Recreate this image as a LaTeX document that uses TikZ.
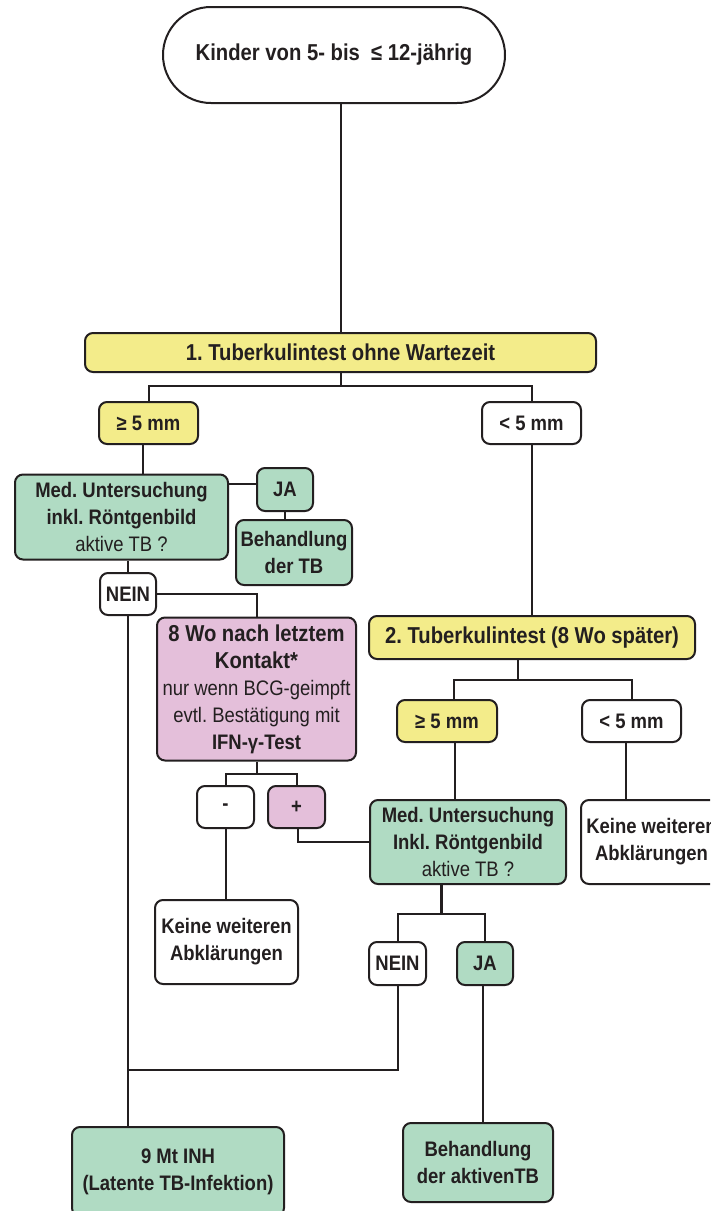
\documentclass[tikz,border=0pt]{standalone}
\usepackage{fontspec}
\setmainfont[FakeStretch=0.88]{Liberation Sans}
\usetikzlibrary{shapes.misc}
\definecolor{ink}{HTML}{231F20}
\definecolor{yel}{HTML}{F3EC8A}
\definecolor{grn}{HTML}{B0DBC3}
\definecolor{pnk}{HTML}{E4BFDA}
\newcommand\bigsz{\fontsize{23}{27}\selectfont}
\frenchspacing
\begin{document}
\begin{tikzpicture}[x=1pt,y=-1pt,
  box/.style={draw=ink, line width=2pt, rounded corners=8pt, align=center, inner sep=0pt,
    text=ink, font=\fontsize{21}{27}\selectfont\bfseries},
  big/.style={font=\fontsize{23}{27}\selectfont\bfseries},
  sz/.style 2 args={minimum width=#1pt, minimum height=#2pt},
  conn/.style={draw=ink, line width=2pt}]
\useasboundingbox (0,0) rectangle (710,1211);
\clip (0,0) rectangle (710,1211);
\fill[white] (0,0) rectangle (710,1211);
% nodes
\node[box, big, rounded rectangle, rounded corners=0pt, fill=white, sz={342}{96}] (start) at (334,55) {Kinder von 5- bis\ \ ≤ 12-jährig};
\node[box, big, fill=yel, sz={511}{39}] (t1) at (340.5,352.5) {1. Tuberkulintest ohne Wartezeit};
\node[box, fill=yel, sz={99}{42}] (g5a) at (148.5,423) {≥ 5 mm};
\node[box, fill=white, sz={99}{42}] (l5a) at (531.5,423) {< 5 mm};
\node[box, fill=grn, sz={213}{85}] (med1) at (121.5,517) {Med. Untersuchung\\inkl. Röntgenbild\\\mdseries aktive TB ?};
\node[box, fill=grn, sz={56}{43}] (ja1) at (285,489.5) {JA};
\node[box, fill=grn, sz={116}{65}] (beh1) at (294,552.5) {Behandlung\\der TB};
\node[box, fill=white, sz={56}{42}] (nein1) at (128,594) {NEIN};
\node[box, fill=pnk, sz={199}{143}] (pink) at (256.5,689) {\bigsz 8 Wo nach letztem\\\bigsz Kontakt*\\\mdseries nur wenn BCG-geimpft\\\mdseries evtl. Bestätigung mit\\IFN-γ-Test};
\node[box, fill=white, sz={57}{42}] (minus) at (225.5,807) {-};
\node[box, fill=pnk, sz={57}{42}] (plus) at (296.5,807) {+};
\node[box, fill=white, sz={143}{84}] (keine1) at (226.5,942) {Keine weiteren\\Abklärungen};
\node[box, big, fill=yel, sz={326}{43}] (t2) at (532,637.5) {2. Tuberkulintest (8 Wo später)};
\node[box, fill=yel, sz={100}{42}] (g5b) at (447,721) {≥ 5 mm};
\node[box, fill=white, sz={99}{42}] (l5b) at (631.5,721) {< 5 mm};
\node[box, fill=grn, sz={196}{84}] (med2) at (468,842) {Med. Untersuchung\\Inkl. Röntgenbild\\\mdseries aktive TB ?};
\node[box, fill=white, sz={141}{84}] (keine2) at (651.5,842) {Keine weiteren\\Abklärungen};
\node[box, fill=white, sz={57}{43}] (nein2) at (397.5,963.5) {NEIN};
\node[box, fill=grn, sz={56}{43}] (ja2) at (485,963.5) {JA};
\node[box, fill=grn, sz={212}{89}] (inh) at (178,1171.5) {9 Mt INH\\(Latente TB-Infektion)};
\node[box, fill=grn, sz={150}{79}] (beh2) at (478,1162.5) {Behandlung\\der aktivenTB};
% connectors
\draw[conn] (start.south -| t1.north) -- (t1.north);
\draw[conn] (t1.south) -- ++(0,13) coordinate (j1);
\draw[conn] (g5a.north) |- (j1) -| (l5a.north);
\draw[conn] ([xshift=-6pt]g5a.south) -- ([xshift=-6pt]g5a.south |- med1.north);
\draw[conn] ([yshift=6pt]ja1.west) -- ([yshift=6pt]ja1.west -| med1.east);
\draw[conn] (ja1.south) -- (ja1.south |- beh1.north);
\draw[conn] (nein1.north) -- (nein1.north |- med1.south);
\draw[conn] (nein1.east) -| (pink.north);
\draw[conn] (nein1.south) -- (nein1.south |- inh.north);
\draw[conn] (pink.south) -- ++(0,12) coordinate (j2);
\draw[conn] (minus.north) |- (j2) -| (plus.north);
\draw[conn] (minus.south) -- (minus.south |- keine1.north);
\draw[conn] ([xshift=1.5pt]plus.south) |- (med2.west);
\draw[conn] (l5a.south) -- (l5a.south |- t2.north);
\draw[conn] ([xshift=-14pt]t2.south) -- ++(0,20) coordinate (j3);
\draw[conn] ([xshift=7pt]g5b.north) |- (j3) -| (l5b.north);
\draw[conn] ([xshift=8pt]g5b.south) -- ([xshift=8pt]g5b.south |- med2.north);
\draw[conn] ([xshift=-6pt]l5b.south) -- ([xshift=-6pt]l5b.south |- keine2.north);
\draw[conn, line width=3pt] ([xshift=-27pt]med2.south) -- ++(0,29) coordinate (j4);
\draw[conn] (nein2.north) |- (j4) -| (ja2.north);
\coordinate (m) at (128,1070);
\draw[conn] (nein2.south) |- (m);
\draw[conn] ([xshift=-2pt]ja2.south) -- ([xshift=-2pt]ja2.south |- beh2.north);
\end{tikzpicture}
\end{document}
